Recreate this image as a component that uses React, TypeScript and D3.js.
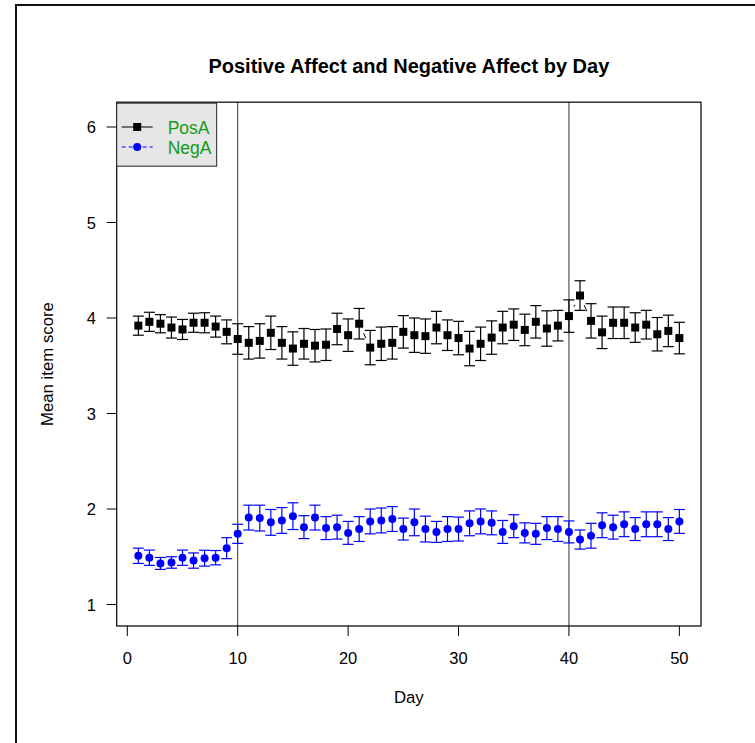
import React from "react";
import * as d3 from "d3";

const days: number[] = Array.from({ length: 50 }, (_, i) => i + 1);

const posMean: number[] = [
  3.92, 3.96, 3.94, 3.90, 3.88, 3.95, 3.95, 3.91, 3.855, 3.78,
  3.74, 3.76, 3.845, 3.74, 3.68, 3.73, 3.71, 3.72, 3.885, 3.82,
  3.94, 3.69, 3.73, 3.74, 3.855, 3.82, 3.81, 3.90, 3.82, 3.79,
  3.68, 3.73, 3.795, 3.90, 3.93, 3.875, 3.96, 3.89, 3.92, 4.02,
  4.235, 3.97, 3.85, 3.95, 3.95, 3.90, 3.93, 3.83, 3.865, 3.79,
];
const posSE: number[] = [
  0.10, 0.10, 0.095, 0.11, 0.105, 0.10, 0.105, 0.11, 0.125, 0.16,
  0.17, 0.18, 0.175, 0.17, 0.175, 0.16, 0.17, 0.165, 0.165, 0.17,
  0.16, 0.18, 0.175, 0.17, 0.17, 0.18, 0.18, 0.17, 0.16, 0.175,
  0.18, 0.175, 0.175, 0.17, 0.165, 0.165, 0.17, 0.185, 0.16, 0.17,
  0.155, 0.18, 0.17, 0.165, 0.165, 0.155, 0.15, 0.175, 0.165, 0.165,
];
const negMean: number[] = [
  1.51, 1.49, 1.43, 1.44, 1.49, 1.46, 1.485, 1.49, 1.59, 1.74,
  1.91, 1.905, 1.86, 1.88, 1.925, 1.81, 1.91, 1.80, 1.81, 1.75,
  1.79, 1.87, 1.88, 1.895, 1.79, 1.86, 1.79, 1.76, 1.79, 1.79,
  1.85, 1.87, 1.855, 1.76, 1.82, 1.75, 1.74, 1.80, 1.79, 1.76,
  1.68, 1.72, 1.83, 1.81, 1.84, 1.79, 1.84, 1.84, 1.79, 1.87,
];
const negSE: number[] = [
  0.08, 0.08, 0.0625, 0.06, 0.08, 0.08, 0.083, 0.075, 0.11, 0.10,
  0.13, 0.135, 0.135, 0.135, 0.14, 0.12, 0.13, 0.12, 0.125, 0.12,
  0.13, 0.13, 0.13, 0.13, 0.115, 0.14, 0.135, 0.11, 0.13, 0.125,
  0.13, 0.13, 0.125, 0.12, 0.12, 0.105, 0.11, 0.12, 0.13, 0.115,
  0.10, 0.13, 0.13, 0.125, 0.13, 0.12, 0.13, 0.13, 0.12, 0.125,
];

const xTicks: number[] = [0, 10, 20, 30, 40, 50];
const yTicks: number[] = [1, 2, 3, 4, 5, 6];
const refLines: number[] = [10, 40];
const seriesNames: string[] = ["PosA", "NegA"];

const W = 755;
const H = 743;
const FONT = "'Liberation Sans', Arial, Helvetica, sans-serif";

const xLim: [number, number] = [-0.96, 51.96];
const yLim: [number, number] = [0.775, 6.26];
const x = d3.scaleLinear().domain(xLim).range([116.7, 701]);
const y = d3.scaleLinear().domain([1, 6]).range([604.5, 127]);

const GAP = 10.5;
const CAP = 5.5;

function gapSegments(xs: number[], ys: number[]) {
  const segs: { x1: number; y1: number; x2: number; y2: number }[] = [];
  for (let i = 0; i < xs.length - 1; i++) {
    const x1 = x(xs[i]), y1 = y(ys[i]), x2 = x(xs[i + 1]), y2 = y(ys[i + 1]);
    const dx = x2 - x1, dy = y2 - y1;
    const len = Math.sqrt(dx * dx + dy * dy);
    if (len > 2 * GAP) {
      const ux = dx / len, uy = dy / len;
      segs.push({ x1: x1 + ux * GAP, y1: y1 + uy * GAP, x2: x2 - ux * GAP, y2: y2 - uy * GAP });
    }
  }
  return segs;
}

function Series({ mean, se, color, shape, dash }: { mean: number[]; se: number[]; color: string; shape: "square" | "circle"; dash?: string }) {
  const segs = gapSegments(days, mean);
  return (
    <g>
      {segs.map((s, i) => (
        <line key={"s" + i} x1={s.x1} y1={s.y1} x2={s.x2} y2={s.y2} stroke={color} strokeWidth={1} strokeDasharray={dash} />
      ))}
      {days.map((d, i) => {
        const cx = x(d);
        const top = y(mean[i] + se[i]);
        const bot = y(mean[i] - se[i]);
        return (
          <g key={"e" + i} stroke={color} strokeWidth={1.2}>
            <line x1={cx} x2={cx} y1={top} y2={bot} />
            <line x1={cx - CAP} x2={cx + CAP} y1={top} y2={top} />
            <line x1={cx - CAP} x2={cx + CAP} y1={bot} y2={bot} />
          </g>
        );
      })}
      {days.map((d, i) =>
        shape === "square" ? (
          <rect key={"p" + i} x={x(d) - 4} y={y(mean[i]) - 4} width={8} height={8} fill={color} />
        ) : (
          <circle key={"p" + i} cx={x(d)} cy={y(mean[i])} r={4} fill={color} />
        )
      )}
    </g>
  );
}

export default function App() {
  const left = x(xLim[0]);
  const right = x(xLim[1]);
  const top = y(yLim[1]);
  const bottom = y(yLim[0]);
  const midX = (left + right) / 2;
  const midY = (top + bottom) / 2;
  const legX = left;
  const legY = top + 1;
  return (
    <svg width={W} height={H} style={{ position: "absolute", left: 0, top: 0, background: "#fff" }} fontFamily={FONT}>
      <rect x={0} y={0} width={W} height={H} fill="#fff" />
      <rect x={16} y={5} width={W + 20} height={H + 20} fill="none" stroke="#111" strokeWidth={2} />

      <text x={midX} y={73} textAnchor="middle" fontSize={20} fontWeight="bold" fill="#000">
        Positive Affect and Negative Affect by Day
      </text>

      {refLines.map((r) => (
        <line key={r} x1={x(r)} x2={x(r)} y1={top} y2={bottom} stroke="#333" strokeWidth={1} />
      ))}

      <Series mean={posMean} se={posSE} color="#000" shape="square" />
      <Series mean={negMean} se={negSE} color="#0000ff" shape="circle" dash="4,3" />

      <rect x={left} y={top} width={right - left} height={bottom - top} fill="none" stroke="#000" strokeWidth={1.2} />

      {xTicks.map((t) => (
        <g key={"xt" + t}>
          <line x1={x(t)} x2={x(t)} y1={bottom} y2={bottom + 10} stroke="#000" />
          <text x={x(t)} y={664} textAnchor="middle" fontSize={16.5} fill="#000">{t}</text>
        </g>
      ))}
      {yTicks.map((t) => (
        <g key={"yt" + t}>
          <line x1={left - 10} x2={left} y1={y(t)} y2={y(t)} stroke="#000" />
          <text x={96} y={y(t) + 6} textAnchor="end" fontSize={16.5} fill="#000">{t}</text>
        </g>
      ))}

      <text x={midX} y={703} textAnchor="middle" fontSize={16.8} fill="#000">Day</text>
      <text transform={`translate(53, ${midY}) rotate(-90)`} textAnchor="middle" fontSize={16.8} fill="#000">
        Mean item score
      </text>

      <g>
        <rect x={legX} y={legY} width={100} height={63} fill="#e6e6e6" stroke="#222" strokeWidth={1} />
        <line x1={legX + 5} x2={legX + 36} y1={127} y2={127} stroke="#000" />
        <rect x={legX + 16.5} y={123} width={8} height={8} fill="#000" />
        <text x={legX + 51} y={133.5} fontSize={17.5} fill="#149a14">{seriesNames[0]}</text>
        <line x1={legX + 5} x2={legX + 36} y1={147} y2={147} stroke="#0000ff" strokeDasharray="4,3" />
        <circle cx={legX + 20.5} cy={147} r={4} fill="#0000ff" />
        <text x={legX + 51} y={153.5} fontSize={17.5} fill="#149a14">{seriesNames[1]}</text>
      </g>
    </svg>
  );
}
